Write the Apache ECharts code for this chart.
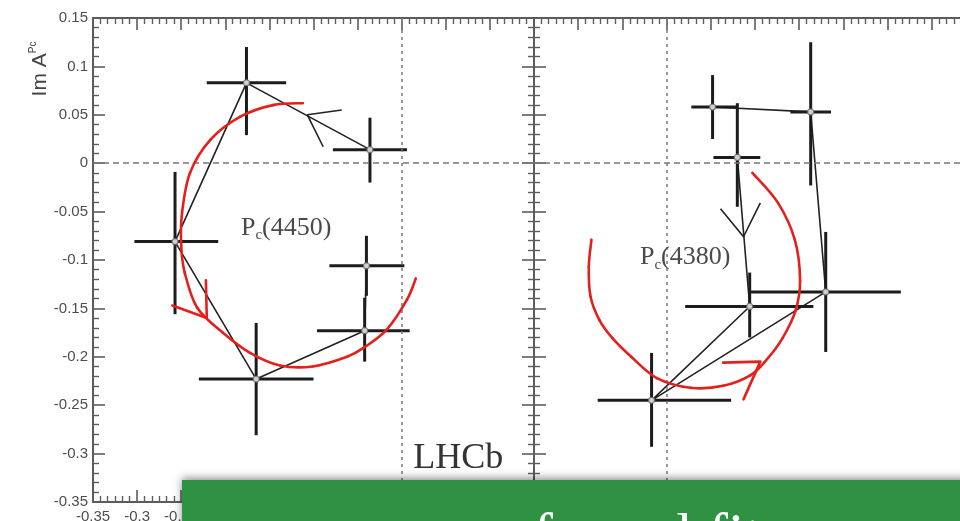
<!DOCTYPE html>
<html>
<head>
<meta charset="utf-8">
<script src="https://cdn.jsdelivr.net/npm/echarts@6/dist/echarts.min.js"></script>
<style>
  html, body { margin: 0; padding: 0; background: #ffffff; }
  #chart { width: 960px; height: 521px; }
</style>
</head>
<body>
<div id="chart"></div>
<script>
// ---- Pc(4450) amplitude bins (listed in order of increasing mass) ----
const pc4450Re      = [-0.036, -0.176, -0.257, -0.165, -0.042, -0.040];
const pc4450Im      = [ 0.014,  0.083, -0.081, -0.223, -0.173, -0.106];
const pc4450ReErrLo = [ 0.042,  0.045,  0.046,  0.065,  0.054,  0.042];
const pc4450ReErrHi = [ 0.042,  0.045,  0.049,  0.065,  0.051,  0.043];
const pc4450ImErrLo = [ 0.034,  0.054,  0.075,  0.058,  0.032,  0.031];
const pc4450ImErrHi = [ 0.033,  0.037,  0.072,  0.058,  0.034,  0.031];

// ---- Pc(4380) amplitude bins (listed in order of increasing mass) ----
const pc4380Re      = [ 0.080,  0.094, -0.017,  0.180,  0.163,  0.052];
const pc4380Im      = [ 0.006, -0.148, -0.245, -0.133,  0.053,  0.058];
const pc4380ReErrLo = [ 0.027,  0.073,  0.061,  0.087,  0.023,  0.024];
const pc4380ReErrHi = [ 0.026,  0.072,  0.090,  0.085,  0.023,  0.027];
const pc4380ImErrLo = [ 0.051,  0.032,  0.048,  0.062,  0.076,  0.033];
const pc4380ImErrHi = [ 0.056,  0.035,  0.049,  0.062,  0.072,  0.033];

// ---- hand-drawn Breit-Wigner circles (red) ----
const circle4450Re = [-0.112, -0.146, -0.183, -0.217, -0.240, -0.249, -0.250, -0.246, -0.232, -0.203, -0.172, -0.138, -0.101, -0.062, -0.042, -0.017, 0.006, 0.016];
const circle4450Im = [ 0.062,  0.060,  0.048,  0.024, -0.010, -0.051, -0.085, -0.113, -0.149, -0.175, -0.196, -0.209, -0.210, -0.200, -0.190, -0.172, -0.141, -0.119];
const circle4380Re = [-0.085, -0.088, -0.086, -0.076, -0.061, -0.040, -0.011, 0.027, 0.064, 0.095, 0.115, 0.131, 0.146, 0.151, 0.145, 0.126, 0.097];
const circle4380Im = [-0.079, -0.107, -0.138, -0.162, -0.181, -0.200, -0.222, -0.232, -0.230, -0.219, -0.201, -0.181, -0.152, -0.121, -0.079, -0.041, -0.010];

// ---- arrowheads (arm, tip, arm) ----
const arrowRed4450Re   = [-0.260, -0.221, -0.222];
const arrowRed4450Im   = [-0.147, -0.160, -0.121];
const arrowRed4380Re   = [ 0.064,  0.106,  0.087];
const arrowRed4380Im   = [-0.206, -0.205, -0.244];
const arrowBlack4450Re = [-0.068, -0.107, -0.089];
const arrowBlack4450Im = [ 0.055,  0.050,  0.017];
const arrowBlack4380Re = [ 0.061,  0.087,  0.106];
const arrowBlack4380Im = [-0.047, -0.076, -0.041];

// ---- axis ticks ----
const tickStep = 0.05;
const leftReRange  = [-0.35, 0.15];
const rightReRange = [-0.15, 0.35];
const imRange      = [-0.35, 0.15];

const zip = (a, b) => a.map((v, i) => [v, b[i]]);
const errRows = (re, im, rl, rh, il, ih) => re.map((v, i) => [v, im[i], rl[i], rh[i], il[i], ih[i]]);

const frameColor = '#5c5c5c';
const labelFont = { fontFamily: 'Liberation Sans', fontSize: 15, color: '#4d4d4d' };

function reAxis(grid, position, range, withLabels) {
  return {
    type: 'value', gridIndex: grid, position: position,
    min: range[0], max: range[1], interval: tickStep,
    axisLine: { show: true, onZero: false, lineStyle: { color: frameColor, width: 2 } },
    axisTick: { show: true, inside: true, length: 12, lineStyle: { color: frameColor, width: 1.6 } },
    minorTick: { show: true, splitNumber: 6, length: 6, lineStyle: { color: frameColor, width: 1.4 } },
    axisLabel: Object.assign({ show: withLabels, margin: 7, showMinLabel: true, showMaxLabel: true, hideOverlap: false }, labelFont),
    splitLine: { show: false }, minorSplitLine: { show: false }
  };
}
function imAxis(grid, position, withLabels) {
  return {
    type: 'value', gridIndex: grid, position: position,
    min: imRange[0], max: imRange[1], interval: tickStep,
    axisLine: { show: true, onZero: false, lineStyle: { color: frameColor, width: 2 } },
    axisTick: { show: true, inside: true, length: 12, lineStyle: { color: frameColor, width: 1.6 } },
    minorTick: { show: true, splitNumber: 5, length: 6, lineStyle: { color: frameColor, width: 1.4 } },
    axisLabel: Object.assign({ show: withLabels, margin: 5, showMinLabel: true, showMaxLabel: true, hideOverlap: false }, labelFont),
    splitLine: { show: false }, minorSplitLine: { show: false }
  };
}

// crossing error bars drawn through the axis scales
function errorBars(params, api) {
  const x = api.value(0), y = api.value(1);
  const l = api.coord([x - api.value(2), y]);
  const r = api.coord([x + api.value(3), y]);
  const b = api.coord([x, y - api.value(4)]);
  const t = api.coord([x, y + api.value(5)]);
  const st = { stroke: '#1c1c1c', lineWidth: 3 };
  return {
    type: 'group',
    children: [
      { type: 'line', shape: { x1: l[0], y1: l[1], x2: r[0], y2: r[1] }, style: st },
      { type: 'line', shape: { x1: t[0], y1: t[1], x2: b[0], y2: b[1] }, style: st }
    ]
  };
}

// freehand circle: a Catmull-Rom stroke through the sketched points, placed by the axes
function sketchStroke(re, im) {
  return function (params, api) {
    if (params.dataIndex !== 0) return null;
    const p = re.map((v, i) => api.coord([v, im[i]]));
    const n = p.length;
    const kids = [];
    for (let i = 0; i < n - 1; i++) {
      const p0 = p[Math.max(i - 1, 0)], p1 = p[i], p2 = p[i + 1], p3 = p[Math.min(i + 2, n - 1)];
      kids.push({
        type: 'bezierCurve',
        shape: {
          x1: p1[0], y1: p1[1], x2: p2[0], y2: p2[1],
          cpx1: p1[0] + (p2[0] - p0[0]) / 6, cpy1: p1[1] + (p2[1] - p0[1]) / 6,
          cpx2: p2[0] - (p3[0] - p1[0]) / 6, cpy2: p2[1] - (p3[1] - p1[1]) / 6
        },
        style: { stroke: '#e3201b', lineWidth: 2.6, fill: null, lineCap: 'round' }
      });
    }
    return { type: 'group', children: kids };
  };
}

const zeroLines = {
  silent: true, symbol: 'none', label: { show: false }, animation: false,
  lineStyle: { color: '#777777', width: 1.5 },
  data: [
    { yAxis: 0, lineStyle: { type: [6, 4] } },
    { xAxis: 0, lineStyle: { type: [3, 4] } }
  ]
};

function pcLabel(mass) {
  return {
    show: true, position: 'inside',
    formatter: '{p|P}{c|c}{p|(' + mass + ')}',
    rich: {
      p: { fontFamily: 'Liberation Serif', fontSize: 26, color: '#4a4a4a', lineHeight: 30 },
      c: { fontFamily: 'Liberation Serif', fontSize: 15, color: '#4a4a4a', lineHeight: 8, verticalAlign: 'bottom' }
    }
  };
}

function panelSeries(ax, d) {
  return [
    {
      type: 'line', xAxisIndex: ax, yAxisIndex: ax, data: zip(d.re, d.im),
      symbol: 'none', lineStyle: { color: '#222222', width: 1.6 }, z: 3,
      markLine: zeroLines,
      markPoint: {
        symbol: 'circle', symbolSize: 0, silent: true, animation: false,
        data: d.marks
      }
    },
    {
      type: 'custom', xAxisIndex: ax, yAxisIndex: ax, renderItem: errorBars,
      data: errRows(d.re, d.im, d.rl, d.rh, d.il, d.ih), encode: { x: 0, y: 1 }, z: 4
    },
    {
      type: 'line', xAxisIndex: ax, yAxisIndex: ax, data: zip(d.arrRe, d.arrIm),
      symbol: 'none', lineStyle: { color: '#222222', width: 1.6 }, z: 4
    },
    {
      type: 'custom', xAxisIndex: ax, yAxisIndex: ax, renderItem: sketchStroke(d.cRe, d.cIm),
      data: zip(d.cRe, d.cIm), encode: { x: 0, y: 1 }, z: 5
    },
    {
      type: 'line', xAxisIndex: ax, yAxisIndex: ax, data: zip(d.redRe, d.redIm),
      symbol: 'none', lineStyle: { color: '#e3201b', width: 2.6, cap: 'round', join: 'round' }, z: 5
    },
    {
      type: 'scatter', xAxisIndex: ax, yAxisIndex: ax, data: zip(d.re, d.im),
      symbol: 'circle', symbolSize: 6,
      itemStyle: { color: '#ffffff', borderColor: '#666666', borderWidth: 1.2 }, z: 6
    }
  ];
}

const series = [].concat(
  panelSeries(0, {
    re: pc4450Re, im: pc4450Im, rl: pc4450ReErrLo, rh: pc4450ReErrHi, il: pc4450ImErrLo, ih: pc4450ImErrHi,
    arrRe: arrowBlack4450Re, arrIm: arrowBlack4450Im,
    cRe: circle4450Re, cIm: circle4450Im, redRe: arrowRed4450Re, redIm: arrowRed4450Im,
    marks: [
      { coord: [-0.131, -0.067], label: pcLabel(4450) },
      { coord: [0.064, -0.305], label: { show: true, position: 'inside', formatter: 'LHCb',
          fontFamily: 'Liberation Serif', fontSize: 36, color: '#333333' } }
    ]
  }),
  panelSeries(2, {
    re: pc4380Re, im: pc4380Im, rl: pc4380ReErrLo, rh: pc4380ReErrHi, il: pc4380ImErrLo, ih: pc4380ImErrHi,
    arrRe: arrowBlack4380Re, arrIm: arrowBlack4380Im,
    cRe: circle4380Re, cIm: circle4380Im, redRe: arrowRed4380Re, redIm: arrowRed4380Im,
    marks: [
      { coord: [0.021, -0.097], label: pcLabel(4380) }
    ]
  })
);

const chart = echarts.init(document.getElementById('chart'), null, { renderer: 'canvas' });
chart.setOption({
  animation: false,
  backgroundColor: '#ffffff',
  grid: [
    { left: 93, top: 18, width: 441, height: 484, outerBoundsMode: 'none', containLabel: false },
    { left: 534, top: 18, width: 442, height: 484, outerBoundsMode: 'none', containLabel: false }
  ],
  xAxis: [
    reAxis(0, 'bottom', leftReRange, true),
    reAxis(0, 'top', leftReRange, false),
    reAxis(1, 'bottom', rightReRange, false),
    reAxis(1, 'top', rightReRange, false)
  ],
  yAxis: [
    imAxis(0, 'left', true),
    imAxis(0, 'right', false),
    imAxis(1, 'left', false),
    imAxis(1, 'right', false)
  ],
  series: series,
  graphic: [
    {
      type: 'text', x: 40, y: 69, rotation: Math.PI / 2, z: 50,
      style: {
        text: '{m|Im A}{s|Pc}', align: 'center', verticalAlign: 'middle',
        rich: {
          m: { fontFamily: 'Liberation Sans', fontSize: 21, fill: '#444444', lineHeight: 24 },
          s: { fontFamily: 'Liberation Sans', fontSize: 10, fill: '#444444', lineHeight: 12, verticalAlign: 'top' }
        }
      }
    },
    {
      type: 'rect', z: 100,
      shape: { x: 182, y: 480, width: 800, height: 60 },
      style: { fill: '#2f9142', shadowBlur: 8, shadowColor: 'rgba(0,0,0,0.45)', shadowOffsetY: -2 }
    },
    {
      type: 'text', x: 533, y: 538, z: 101,
      style: { text: 'formal fit', fill: '#ffffff', fontFamily: 'Liberation Serif', fontSize: 60,
               align: 'left', verticalAlign: 'middle' }
    }
  ]
});
</script>
</body>
</html>
